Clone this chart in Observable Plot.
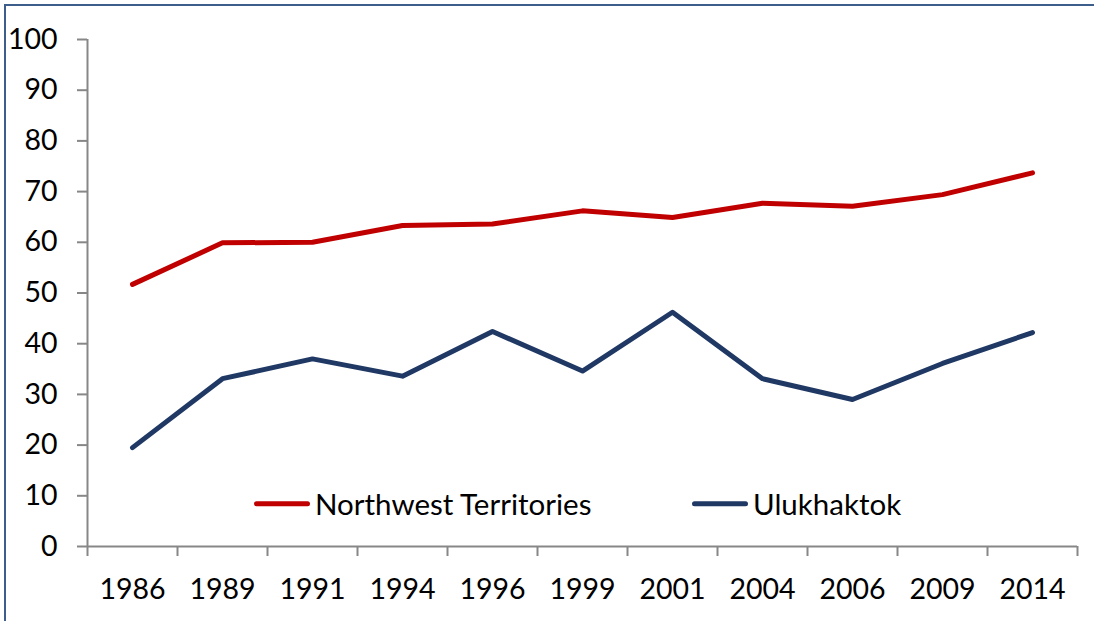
<!DOCTYPE html>
<html>
<head>
<meta charset="utf-8">
<script src="https://cdn.jsdelivr.net/npm/d3@7"></script>
<script src="https://cdn.jsdelivr.net/npm/@observablehq/plot@0.6"></script>
<style>
  html, body { margin: 0; padding: 0; background: #fff; width: 1094px; height: 621px; overflow: hidden; }
  #wrap { position: relative; width: 1094px; height: 621px; font-family: Lato, "Open Sans", sans-serif; }
  #border { position: absolute; left: 4px; top: 4px; width: 1200px; height: 700px; border-left: 2px solid #3d5d8a; border-top: 2px solid #3d5d8a; box-sizing: border-box; }
  #chart { position: absolute; left: 0; top: 0; }
  .leg { position: absolute; top: 504px; display: flex; align-items: center; transform: translateY(-50%); font-size: 29.5px; color: #000; line-height: 1; }
  .leg .sw { width: 56px; height: 5px; border-radius: 2.5px; margin-right: 5px; }
</style>
</head>
<body>
<div id="wrap">
  <div id="border"></div>
  <div id="chart"></div>
  <div class="leg" style="left:254px"><div class="sw" style="background:#c00000"></div><span>Northwest Territories</span></div>
  <div class="leg" style="left:692px"><div class="sw" style="background:#1f3864"></div><span>Ulukhaktok</span></div>
</div>
<script>
const years = ["1986","1989","1991","1994","1996","1999","2001","2004","2006","2009","2014"];
const nwt = [51.7, 59.9, 60.0, 63.3, 63.6, 66.2, 64.9, 67.7, 67.1, 69.4, 73.7];
const ulukhaktok = [19.5, 33.1, 37.0, 33.6, 42.4, 34.6, 46.2, 33.1, 29.0, 36.1, 42.2];
const yTicks = [0, 10, 20, 30, 40, 50, 60, 70, 80, 90, 100];
const seriesNames = ["Northwest Territories", "Ulukhaktok"];
const seriesColors = ["#c00000", "#1f3864"];

const data = [];
years.forEach((y, i) => {
  data.push({year: y, value: nwt[i], series: seriesNames[0]});
  data.push({year: y, value: ulukhaktok[i], series: seriesNames[1]});
});

const W = 1094, H = 621;
const mL = 87, mR = 17, mT = 39, mB = 75;
const step = (W - mL - mR) / years.length;
const axisColor = "#878787";

const chart = Plot.plot({
  width: W,
  height: H,
  marginLeft: mL,
  marginRight: mR,
  marginTop: mT,
  marginBottom: mB,
  style: {fontFamily: "Lato, 'Open Sans', sans-serif", fontSize: "28.5px", color: "#000", background: "transparent"},
  x: {type: "point", domain: years, padding: 0.5, align: 0.5, round: false},
  y: {domain: [0, 100]},
  color: {domain: seriesNames, range: seriesColors},
  marks: [
    Plot.ruleX([years[0]], {y1: 0, y2: 100, dx: -step / 2, stroke: axisColor, strokeWidth: 2}),
    Plot.ruleY([0], {stroke: axisColor, strokeWidth: 2}),
    Plot.ruleX(years, {y1: 0, y2: 0, insetBottom: -10, dx: -step / 2, stroke: axisColor, strokeWidth: 2}),
    Plot.ruleX([years[years.length - 1]], {y1: 0, y2: 0, insetBottom: -10, dx: step / 2, stroke: axisColor, strokeWidth: 2}),
    Plot.axisY(yTicks, {tickSize: 10, tickPadding: 20, stroke: axisColor, strokeWidth: 2, strokeOpacity: 1, fill: "#000", fontSize: 28.5, label: null, tickFormat: d => String(d)}),
    Plot.axisX(years, {tickSize: 0, tickPadding: 32, fill: "#000", fontSize: 28.5, label: null}),
    Plot.line(data, {x: "year", y: "value", z: "series", stroke: "series", strokeWidth: 5, strokeLinejoin: "round", strokeLinecap: "round"})
  ]
});
document.getElementById("chart").appendChild(chart);
</script>
</body>
</html>
